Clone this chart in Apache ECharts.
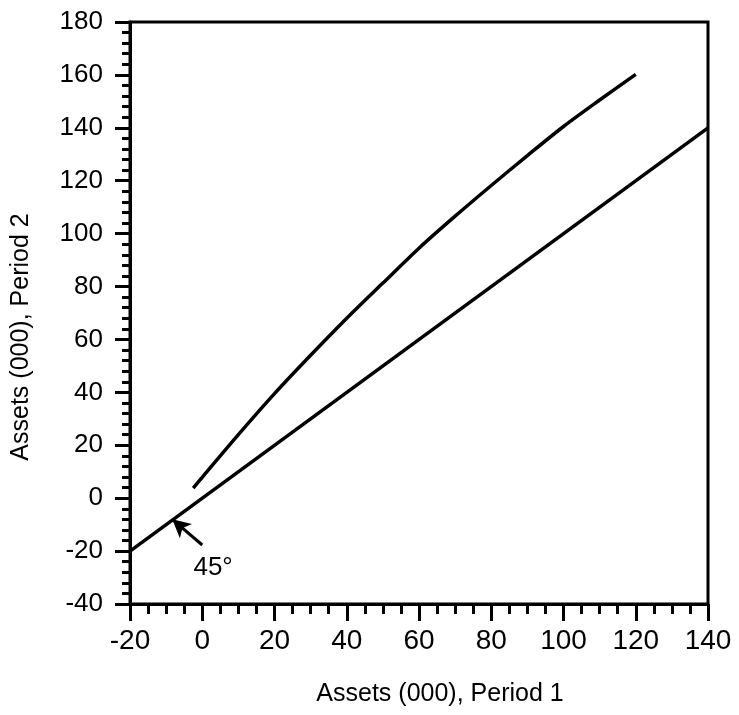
<!DOCTYPE html>
<html>
<head>
<meta charset="utf-8">
<script src="https://cdn.jsdelivr.net/npm/echarts@6/dist/echarts.min.js"></script>
<style>
html,body{margin:0;padding:0;background:#fff;}
#chart{width:739px;height:715px;}
</style>
</head>
<body>
<div id="chart"></div>
<script>
// Data
const diagonalX = [-20, 140];
const diagonalY = [-20, 140];
const curveX = [-2.5, 0, 10, 20, 30, 40, 50, 60, 70, 80, 90, 100, 110, 120];
const curveY = [3.8, 7.9, 24.0, 39.5, 54.0, 68.0, 81.3, 94.5, 106.6, 118.2, 129.5, 140.5, 150.5, 160.2];
const arrowFrom = [0, -17.7];
const arrowTo = [-8.3, -8.0];
const annotationPos = [3, -26.4];
const annotationText = '45°';
const xTitle = 'Assets (000), Period 1';
const yTitle = 'Assets (000), Period 2';

const zip = (a, b) => a.map((v, i) => [v, b[i]]);
const font = '"Liberation Sans", Arial, Helvetica, sans-serif';
const black = '#000';

const chart = echarts.init(document.getElementById('chart'), null, {renderer: 'canvas'});
chart.setOption({
  animation: false,
  backgroundColor: '#fff',
  grid: {left: 130, top: 22, right: 31, bottom: 111, show: true, borderColor: black, borderWidth: 3,
         backgroundColor: 'transparent', containLabel: false, outerBoundsMode: 'none'},
  xAxis: {
    type: 'value', min: -20, max: 140, interval: 20,
    name: xTitle, nameLocation: 'middle', nameGap: 78,
    nameTextStyle: {fontFamily: font, fontSize: 25, color: black, padding: [0, 0, 0, 42]},
    axisLine: {show: true, onZero: false, lineStyle: {color: black, width: 3}},
    axisTick: {show: true, length: 17, lineStyle: {color: black, width: 3}},
    minorTick: {show: true, splitNumber: 4, length: 10, lineStyle: {color: black, width: 3}},
    splitLine: {show: false}, minorSplitLine: {show: false},
    axisLabel: {fontFamily: font, fontSize: 28, color: black, margin: 23}
  },
  yAxis: {
    type: 'value', min: -40, max: 180, interval: 20,
    name: yTitle, nameLocation: 'middle', nameGap: 96,
    nameTextStyle: {fontFamily: font, fontSize: 25, color: black, padding: [0, 48, 0, 0]},
    axisLine: {show: true, onZero: false, lineStyle: {color: black, width: 3}},
    axisTick: {show: true, length: 15, lineStyle: {color: black, width: 3}},
    minorTick: {show: true, splitNumber: 5, length: 8, lineStyle: {color: black, width: 3}},
    splitLine: {show: false}, minorSplitLine: {show: false},
    axisLabel: {fontFamily: font, fontSize: 26, color: black, margin: 27}
  },
  series: [
    {
      type: 'line', data: zip(diagonalX, diagonalY), showSymbol: false, symbol: 'none',
      lineStyle: {color: black, width: 3.5},
      markLine: {
        silent: true, symbol: ['none', 'arrow'], symbolSize: [14, 18],
        lineStyle: {color: black, width: 3, type: 'solid'},
        label: {show: false},
        data: [[{coord: arrowFrom}, {coord: arrowTo}]]
      },
      markPoint: {
        silent: true, symbol: 'circle', symbolSize: 0,
        label: {show: true, formatter: annotationText, fontFamily: font, fontSize: 26, color: black, position: 'inside'},
        data: [{coord: annotationPos}]
      }
    },
    {
      type: 'line', data: zip(curveX, curveY), showSymbol: false, symbol: 'none', smooth: 0.3,
      lineStyle: {color: black, width: 3.5}
    }
  ]
});
</script>
</body>
</html>
